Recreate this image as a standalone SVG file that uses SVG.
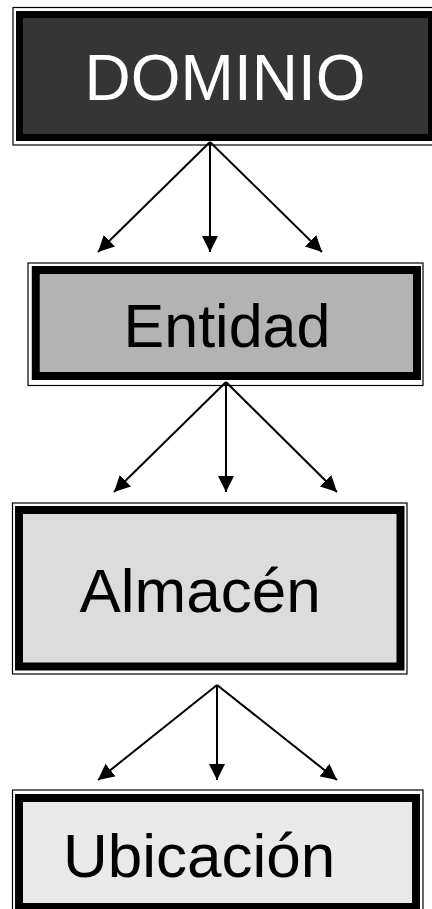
<svg xmlns="http://www.w3.org/2000/svg" width="432" height="909" viewBox="0 0 432 909">
<style>
.outer{fill:none;stroke:#000;stroke-width:1.2}
.thick{stroke:#000}
.lbl{font-family:"Liberation Sans",Arial,sans-serif;text-anchor:middle}
.conn line{stroke:#000;stroke-width:2;marker-end:url(#ah)}
</style>
<defs>
<marker id="ah" markerUnits="userSpaceOnUse" markerWidth="16" markerHeight="16" refX="15" refY="7.5" orient="auto" viewBox="0 0 15 15">
<path d="M0,0 L15,7.5 L0,15 z" fill="#000"/>
</marker>
</defs>
<rect width="432" height="909" fill="#fff"/>
<g id="dominio">
<rect class="outer" x="13" y="7.5" width="430" height="137.5"/>
<rect class="thick" x="19.5" y="14.5" width="412" height="123" fill="#353535" stroke-width="7"/>
<text class="lbl" x="225" y="100" font-size="64" fill="#fff">DOMINIO</text>
</g>
<g id="entidad">
<rect class="outer" x="28" y="263" width="395" height="122.5"/>
<rect class="thick" x="35.75" y="270" width="381.25" height="106" fill="#b3b3b3" stroke-width="8"/>
<text class="lbl" x="227" y="347" font-size="61" fill="#000">Entidad</text>
</g>
<g id="almacen">
<rect class="outer" x="12.5" y="503" width="394.5" height="171"/>
<rect class="thick" x="19" y="510" width="381.5" height="156.5" fill="#dcdcdc" stroke-width="8"/>
<text class="lbl" x="200" y="612" font-size="62" fill="#000">Almacén</text>
</g>
<g id="ubicacion">
<rect class="outer" x="12.5" y="790" width="410.5" height="130"/>
<rect class="thick" x="19" y="798" width="397" height="109" fill="#e9e9e9" stroke-width="8"/>
<text class="lbl" x="199" y="877" font-size="62" fill="#000">Ubicación</text>
</g>
<g id="connectors" class="conn">
<line x1="210" y1="142" x2="98" y2="252"/>
<line x1="210" y1="142" x2="210" y2="252"/>
<line x1="210" y1="142" x2="322" y2="252"/>
<line x1="226" y1="382" x2="114" y2="492"/>
<line x1="226" y1="382" x2="226" y2="492"/>
<line x1="226" y1="382" x2="337" y2="492"/>
<line x1="217" y1="685" x2="98" y2="780"/>
<line x1="217" y1="685" x2="217" y2="780"/>
<line x1="217" y1="685" x2="337" y2="780"/>
</g>
</svg>
